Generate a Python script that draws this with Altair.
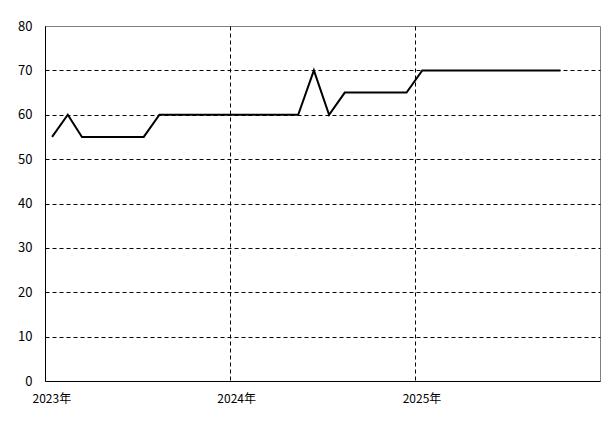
import altair as alt
import pandas as pd

months = ["2023-01", "2023-02", "2023-03", "2023-04", "2023-05", "2023-06",
          "2023-07", "2023-08", "2023-09", "2023-10", "2023-11", "2023-12",
          "2024-01", "2024-02", "2024-03", "2024-04", "2024-05", "2024-06",
          "2024-07", "2024-08", "2024-09", "2024-10", "2024-11", "2024-12",
          "2025-01", "2025-02", "2025-03", "2025-04", "2025-05", "2025-06",
          "2025-07", "2025-08", "2025-09", "2025-10"]
values = [55, 60, 55, 55, 55, 55,
          55, 60, 60, 60, 60, 60,
          60, 60, 60, 60, 60, 70,
          60, 65, 65, 65, 65, 65,
          70, 70, 70, 70, 70, 70,
          70, 70, 70, 70]
y_ticks = [0, 10, 20, 30, 40, 50, 60, 70, 80]
x_years = [2023, 2024, 2025]

df = pd.DataFrame({"date": [m + "-15T00:00:00" for m in months], "value": values})

W, H = 555, 355
FONT = "Noto Sans CJK JP"

x_scale = alt.Scale(domain=[alt.DateTime(year=2023, month=1, date=1),
                            alt.DateTime(year=2026, month=1, date=1)])
y_scale = alt.Scale(domain=[0, 80], nice=False)

line = alt.Chart(df).mark_line(color="black", strokeWidth=2).encode(
    x=alt.X("date:T", scale=x_scale, title=None,
            axis=alt.Axis(values=[alt.DateTime(year=y, month=1, date=1) for y in x_years],
                          format="%Y年", grid=True, gridColor="black",
                          gridDash=[4, 3], gridWidth=1, ticks=False,
                          domainColor="black", domainWidth=1,
                          labelAlign="left", labelOffset=-13, labelPadding=12,
                          labelFlush=False,
                          labelFont=FONT, labelFontSize=12, labelColor="black")),
    y=alt.Y("value:Q", scale=y_scale, title=None,
            axis=alt.Axis(values=y_ticks, grid=True, gridColor="black",
                          gridDash=[4, 3], gridWidth=1,
                          gridOpacity=alt.condition("datum.value == 80 || datum.value == 0",
                                                    alt.value(0), alt.value(1)),
                          ticks=False, domainColor="black", domainWidth=1,
                          labelPadding=13, labelFont=FONT, labelFontSize=13,
                          labelColor="black")),
)

chart = line.properties(
    width=W, height=H,
    autosize=alt.AutoSizeParams(type="none"),
    padding={"left": 37, "top": 18, "right": 7, "bottom": 35},
    background="white",
).configure_view(stroke="#808080", strokeWidth=1)

chart.save("out.html", embed_options={"renderer": "svg", "actions": False})
